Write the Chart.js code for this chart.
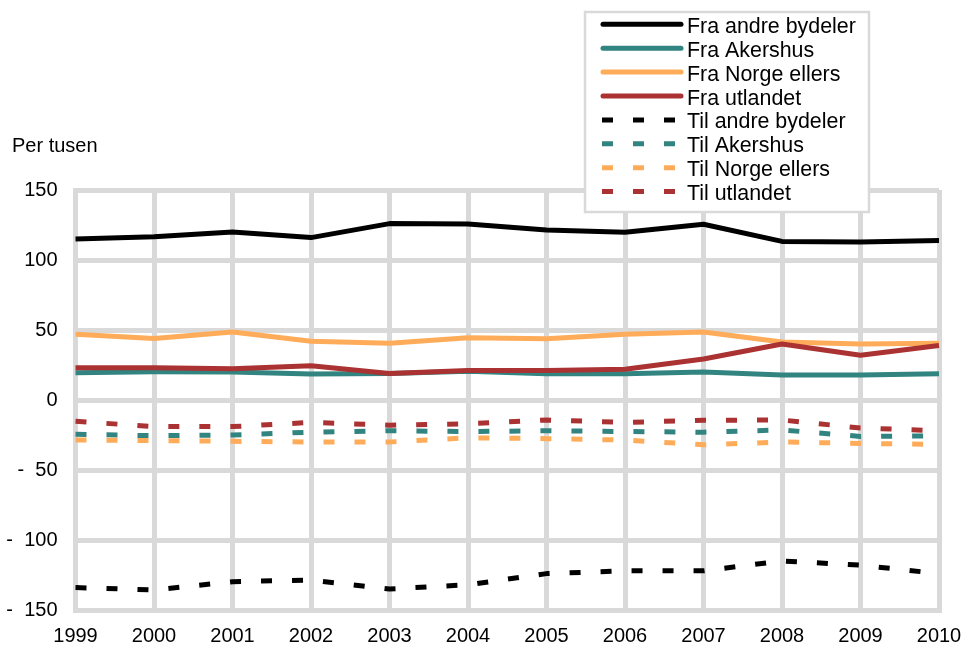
<!DOCTYPE html>
<html>
<head>
<meta charset="utf-8">
<script src="https://cdn.jsdelivr.net/npm/chart.js@4/dist/chart.umd.min.js"></script>
<style>
html,body{margin:0;padding:0;background:#fff;}
#wrap{width:964px;height:645px;}
</style>
</head>
<body>
<div id="wrap"><canvas id="c" width="964" height="645"></canvas></div>
<script>
const years = ['1999','2000','2001','2002','2003','2004','2005','2006','2007','2008','2009','2010'];
const yTicks = [-150, -100, -50, 0, 50, 100, 150];
const axisTitle = 'Per tusen';

const fraAndreBydeler = [115, 116.6, 120, 116, 126, 125.7, 121.4, 119.8, 125.5, 113.3, 112.9, 114];
const fraAkershus     = [19.5, 20.2, 20, 18.6, 19, 20.5, 18.8, 18.8, 20, 17.9, 17.9, 18.8];
const fraNorgeEllers  = [47, 44, 48.6, 42, 40.5, 44.5, 43.8, 47, 48.6, 41.4, 40, 40.5];
const fraUtlandet     = [23, 23, 22.4, 24.5, 19, 21, 21, 22, 29.3, 40, 32, 39];
const tilAndreBydeler = [-134, -135.7, -129.8, -128.6, -135, -132, -124, -122, -122, -115, -118, -124];
const tilAkershus     = [-24.5, -25.5, -25, -23, -22, -22.5, -22, -22.5, -23, -21.4, -26, -25.7];
const tilNorgeEllers  = [-28.6, -29, -29.5, -30, -30, -27, -27.6, -28.6, -32, -30, -31, -31.7];
const tilUtlandet     = [-15.2, -19, -19, -16, -18, -17, -14.3, -16, -14.5, -14.3, -20, -22];

const BLACK = '#000000', TEAL = '#318480', ORANGE = '#FFAC5A', RED = '#AB3232';
const GRID = '#D9D9D9';
const FONT = "'Liberation Sans', Arial, sans-serif";
const DASH = [11, 20];

const seriesDefs = [
  ['Fra andre bydeler', fraAndreBydeler, BLACK, false],
  ['Fra Akershus', fraAkershus, TEAL, false],
  ['Fra Norge ellers', fraNorgeEllers, ORANGE, false],
  ['Fra utlandet', fraUtlandet, RED, false],
  ['Til andre bydeler', tilAndreBydeler, BLACK, true],
  ['Til Akershus', tilAkershus, TEAL, true],
  ['Til Norge ellers', tilNorgeEllers, ORANGE, true],
  ['Til utlandet', tilUtlandet, RED, true]
];

const datasets = seriesDefs.map((s, i) => ({
  label: s[0],
  data: s[1],
  borderColor: s[2],
  backgroundColor: s[2],
  borderWidth: 5,
  borderDash: s[3] ? DASH : [],
  borderCapStyle: 'butt',
  borderJoinStyle: 'round',
  pointRadius: 0,
  tension: 0,
  fill: false,
  order: seriesDefs.length - i
}));

const overlayPlugin = {
  id: 'overlay',
  afterDraw(chart) {
    const ctx = chart.ctx;
    ctx.save();
    ctx.fillStyle = '#000';
    ctx.font = '20px ' + FONT;
    ctx.textAlign = 'left';
    ctx.textBaseline = 'alphabetic';
    ctx.fillText(axisTitle, 12, 152);
    const bx = 585, by = 12, bw = 284, bh = 200;
    ctx.fillStyle = '#fff';
    ctx.fillRect(bx, by, bw, bh);
    ctx.strokeStyle = GRID;
    ctx.lineWidth = 2.5;
    ctx.strokeRect(bx, by, bw, bh);
    ctx.font = '21.4px ' + FONT;
    chart.data.datasets.forEach((ds, i) => {
      const y = 24.3 + i * 23.9;
      ctx.beginPath();
      ctx.strokeStyle = ds.borderColor;
      ctx.lineWidth = 5;
      ctx.lineCap = ds.borderDash.length ? 'butt' : 'round';
      ctx.setLineDash(ds.borderDash);
      if (ds.borderDash.length) {
        ctx.moveTo(602, y); ctx.lineTo(683, y);
      } else {
        ctx.moveTo(603, y); ctx.lineTo(681, y);
      }
      ctx.stroke();
      ctx.setLineDash([]);
      ctx.fillStyle = '#000';
      ctx.fillText(ds.label, 687, y + 8.5);
    });
    ctx.restore();
  }
};

new Chart(document.getElementById('c'), {
  type: 'line',
  data: { labels: years, datasets },
  options: {
    responsive: false,
    animation: false,
    layout: { padding: { left: 0, top: 190, right: 25, bottom: 0 } },
    plugins: { legend: { display: false }, tooltip: { enabled: false }, title: { display: false } },
    scales: {
      x: {
        type: 'category',
        offset: false,
        grid: { color: GRID, lineWidth: 5, drawTicks: false },
        border: { display: true, color: GRID, width: 5 },
        ticks: { color: '#000', font: { family: FONT, size: 20 }, padding: 14, maxRotation: 0, autoSkip: false },
        afterFit(scale) { scale.height = 35; scale.paddingLeft = 0; scale.paddingRight = 0; }
      },
      y: {
        min: -150, max: 150,
        afterBuildTicks(scale) { scale.ticks = yTicks.map(v => ({ value: v })); },
        grid: { color: GRID, lineWidth: 5, drawTicks: false },
        border: { display: true, color: GRID, width: 5 },
        ticks: {
          color: '#000', font: { family: FONT, size: 20 }, padding: 18,
          callback: v => v < 0 ? '-  ' + Math.abs(v) : String(v)
        },
        afterFit(scale) { scale.width = 75.5; scale.paddingTop = 0; scale.paddingBottom = 0; }
      }
    }
  },
  plugins: [overlayPlugin]
});
</script>
</body>
</html>
